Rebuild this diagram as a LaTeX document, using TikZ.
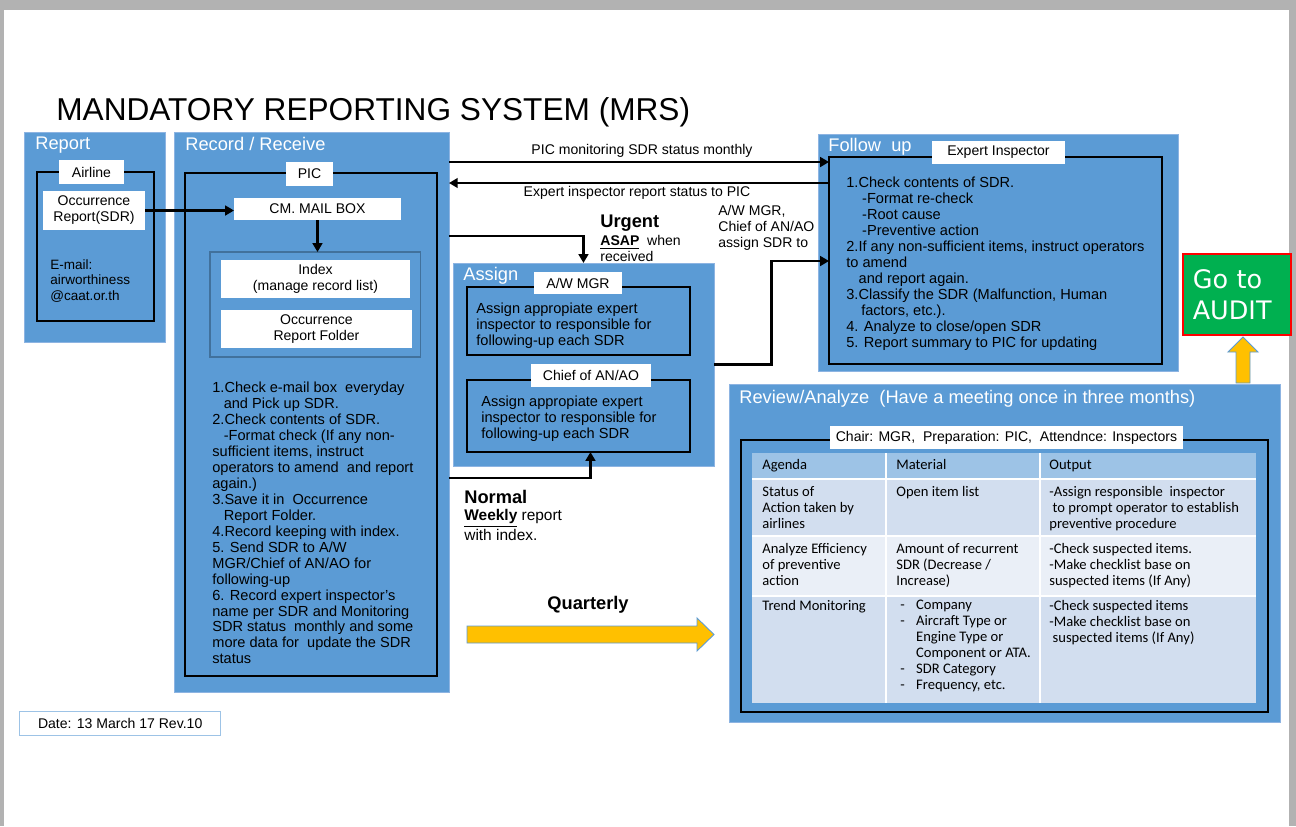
\documentclass[tikz,border=0pt]{standalone}
\usepackage{fontspec}
\setmainfont{Liberation Sans}
\newfontfamily\tabfont{Carlito}
\newfontfamily\auditfont{DejaVu Sans}
\usetikzlibrary{arrows.meta,calc}

\definecolor{boxblue}{HTML}{5B9BD5}
\definecolor{boxedge}{HTML}{8DB4E2}
\definecolor{grpedge}{HTML}{41719C}
\definecolor{tabhead}{HTML}{9DC3E6}
\definecolor{tabrowa}{HTML}{D2DEEF}
\definecolor{tabrowb}{HTML}{EAEFF7}
\definecolor{auditgreen}{HTML}{00B050}
\definecolor{arrowyellow}{HTML}{FFC000}
\newcommand\bodyfont{\fontsize{8.3}{9.07}\selectfont}
\newcommand\labelfont{\fontsize{8}{9.07}\selectfont}

\begin{document}
\begin{tikzpicture}[x=0.02cm, y=-0.02cm,
    %Option for arrows
    >={Triangle[length=5pt,width=5.5pt]},
    outerbox/.style={draw=boxedge, fill=boxblue, anchor=north west, inner sep=0pt, outer sep=0pt},
    blackframe/.style={draw=black, line width=0.8pt, anchor=north west, inner sep=0pt, outer sep=0pt},
    tagbox/.style={fill=white, inner sep=0pt, outer sep=0pt, font=\labelfont, align=center},
    headtext/.style={text=white, anchor=west, inner sep=0pt, font=\fontsize{10.4}{12}\selectfont},
    bodytext/.style={anchor=north west, inner sep=0pt, align=left, font=\bodyfont},
    boldtext/.style={anchor=west, inner sep=0pt, font=\bfseries\fontsize{10.4}{12}\selectfont},
    flow/.style={->, line width=1.3pt},
    cell/.style={anchor=north west, inner sep=0pt, align=left, font=\tabfont\fontsize{8.3}{9.07}\selectfont},
    blockarrow/.style={fill=arrowyellow, draw=boxblue, line width=0.5pt},
]
    % Page
    \fill[black!30] (0,0) rectangle (1296,826);
    \fill[white] (4,10) rectangle (1289,826);
    \useasboundingbox (0,0) rectangle (1296,826);

    \node[anchor=west, inner sep=0pt, font=\fontsize{18}{20}\selectfont] (title) at (56,112)
        {MANDATORY REPORTING SYSTEM (MRS)};

    % Report
    \node[outerbox, minimum width=2.82cm, minimum height=4.2cm] (report) at (24,132) {};
    \node[headtext] (reporthead) at (35,145) {Report};
    \node[blackframe, minimum width=2.34cm, minimum height=2.98cm] (airline) at (37,172) {};
    \node[tagbox, minimum width=1.3cm, minimum height=0.48cm] (airlinetag) at (91.5,172) {Airline};
    \node[tagbox, anchor=north west, minimum width=2.04cm, minimum height=0.78cm] (sdr) at (43,191)
        {Occurrence\\Report(SDR)};
    \node[bodytext, font=\fontsize{7.7}{8.8}\selectfont] (email) at (50,259) {E-mail:\\airworthiness\\@caat.or.th};

    % Record / Receive
    \node[outerbox, minimum width=5.5cm, minimum height=11.2cm] (record) at (174,132) {};
    \node[headtext] (recordhead) at (185,144) {Record / Receive};
    \node[blackframe, minimum width=5.04cm, minimum height=10.06cm] (pic) at (185,173) {};
    \node[tagbox, minimum width=0.94cm, minimum height=0.48cm] (pictag) at (309.5,174) {PIC};
    \node[tagbox, anchor=north west, minimum width=3.34cm, minimum height=0.44cm] (mailbox) at (234,198)
        {CM. MAIL BOX};
    \node[outerbox, draw=grpedge, line width=0.6pt, minimum width=4.22cm, minimum height=2.1cm] (records) at (210,252) {};
    \node[tagbox, anchor=north west, minimum width=3.78cm, minimum height=0.76cm] (index) at (221,260)
        {Index\\(manage record list)};
    \node[tagbox, anchor=north west, minimum width=3.82cm, minimum height=0.76cm] (folder) at (221,310)
        {Occurrence\\Report Folder};
    \node[bodytext] (picsteps) at (212,382) {1.Check e-mail box\ \ everyday\\
        \hspace*{6.5pt}and Pick up SDR.\\
        2.Check contents of SDR.\\
        \hspace*{6.5pt}-Format check (If any non-\\
        sufficient items, instruct\\
        operators to amend\ \ and report\\
        again.)\\
        3.Save it in\ \ Occurrence\\
        \hspace*{6.5pt}Report Folder.\\
        4.Record keeping with index.\\
        5. Send SDR to A/W\\
        MGR/Chief of AN/AO for\\
        following-up\\
        6. Record expert inspector's\\
        name per SDR and Monitoring\\
        SDR status\ \ monthly and some\\
        more data for\ \ update the SDR\\
        status};

    % Assign
    \node[outerbox, minimum width=5.22cm, minimum height=4.06cm] (assign) at (453,263) {};
    \node[headtext] (assignhead) at (463,276) {Assign};
    \node[blackframe, minimum width=4.46cm, minimum height=1.36cm] (awmgr) at (467,287) {};
    \node[tagbox, minimum width=1.76cm, minimum height=0.44cm] (awmgrtag) at (578,283) {A/W MGR};
    \node[bodytext] (awmgrtext) at (476,303)
        {Assign appropiate expert\\inspector to responsible for\\following-up each SDR};
    \node[blackframe, minimum width=4.46cm, minimum height=1.44cm] (chief) at (467,380) {};
    \node[tagbox, minimum width=2.4cm, minimum height=0.46cm] (chieftag) at (591,375.5) {Chief of AN/AO};
    \node[bodytext] (chieftext) at (481,396)
        {Assign appropiate expert\\inspector to responsible for\\following-up each SDR};

    % Follow up
    \node[outerbox, minimum width=7.2cm, minimum height=4.74cm] (follow) at (818,134) {};
    \node[headtext] (followhead) at (828,147) {Follow\ \ up};
    \node[blackframe, minimum width=6.66cm, minimum height=4.14cm] (expert) at (829,157) {};
    \node[tagbox, minimum width=2.66cm, minimum height=0.46cm] (experttag) at (998.5,152.5) {Expert Inspector};
    \node[bodytext] (experttext) at (846,177) {1.Check contents of SDR.\\
        \hspace*{9pt}-Format re-check\\
        \hspace*{9pt}-Root cause\\
        \hspace*{9pt}-Preventive action\\
        2.If any non-sufficient items, instruct operators\\
        to amend\\
        \hspace*{7pt}and report again.\\
        3.Classify the SDR (Malfunction, Human\\
        \hspace*{8.5pt}factors, etc.).\\
        4. Analyze to close/open SDR\\
        5. Report summary to PIC for updating};

    % Audit
    \node[anchor=north west, fill=auditgreen, draw=red, line width=0.9pt, minimum height=1.62cm,
        text width=1.76cm, inner sep=0.2cm, align=left, text=white,
        font=\auditfont\fontsize{14.5}{17.6}\selectfont] (audit) at (1182,253) {Go to\\AUDIT};
    \draw[blockarrow] (1236,383) -- (1236,352) -- (1228,352) -- (1243,337)
        -- (1258,352) -- (1250,352) -- (1250,383) -- cycle;

    % Review / Analyze
    \node[outerbox, minimum width=11.02cm, minimum height=6.76cm] (review) at (729,384) {};
    \node[headtext] (reviewhead) at (739,399) {Review/Analyze\ \ (Have a meeting once in three months)};
    \node[blackframe, minimum width=10.54cm, minimum height=5.44cm] (meeting) at (741,440) {};

    % Table
    \fill[tabhead] (752,453) rectangle (1256,479);
    \fill[tabrowa] (752,479) rectangle (1256,536);
    \fill[tabrowb] (752,536) rectangle (1256,596);
    \fill[tabrowa] (752,596) rectangle (1256,703);
    \foreach \y in {479,536,596}
        \draw[white, line width=1.2pt] (752,\y) -- (1256,\y);
    \foreach \x in {886,1040}
        \draw[white, line width=1.2pt] (\x,453) -- (\x,703);
    \node[tagbox, minimum width=7.06cm, minimum height=0.46cm] (chair) at (1006.5,437.5)
        {Chair: MGR,\ \ Preparation: PIC,\ \ Attendnce: Inspectors};

    \node[cell, anchor=base west] (agenda) at (762,469.5) {Agenda};
    \node[cell, anchor=base west] (material) at (896,469.5) {Material};
    \node[cell, anchor=base west] (output) at (1049,469.5) {Output};
    \node[cell] (statusa) at (762,486) {Status of\\Action taken by\\airlines};
    \node[cell] (statusm) at (896,486) {Open item list};
    \node[cell] (statuso) at (1049,486)
        {-Assign responsible\ \ inspector\\\ to prompt operator to establish\\preventive procedure};
    \node[cell] (effa) at (762,543) {Analyze Efficiency\\of preventive\\action};
    \node[cell] (effm) at (896,543) {Amount of recurrent\\SDR (Decrease /\\Increase)};
    \node[cell] (effo) at (1049,543)
        {-Check suspected items.\\-Make checklist base on\\suspected items (If Any)};
    \node[cell] (trenda) at (762,600) {Trend Monitoring};
    \node[cell] (trendm) at (900,600) {\makebox[9pt][l]{-}Company\\
        \makebox[9pt][l]{-}Aircraft Type or\\
        \hspace*{9pt}Engine Type or\\
        \hspace*{9pt}Component or ATA.\\
        \makebox[9pt][l]{-}SDR Category\\
        \makebox[9pt][l]{-}Frequency, etc.};
    \node[cell] (trendo) at (1049,600)
        {-Check suspected items\\-Make checklist base on\\\ suspected items (If Any)};

    % Quarterly
    \node[boldtext, anchor=center] (quarterly) at (588,605) {Quarterly};
    \draw[blockarrow] (467,626) -- (697,626) -- (697,618) -- (714,634.5)
        -- (697,651) -- (697,643) -- (467,643) -- cycle;

    % Labels of connectors
    \node[inner sep=0pt, font=\labelfont] (monlabel) at (642,151) {PIC monitoring SDR status monthly};
    \node[inner sep=0pt, font=\labelfont] (statlabel) at (637,193) {Expert inspector report status to PIC};
    \node[boldtext] (urgent) at (600,223) {Urgent};
    \node[bodytext, font=\labelfont] (urgentnote) at (600,235) {\underline{\textbf{ASAP}}\ \ when\\received};
    \node[boldtext] (normal) at (464,497) {Normal};
    \node[bodytext, font=\fontsize{8.8}{9.6}\selectfont] (normalnote) at (464,509)
        {\underline{\textbf{Weekly}} report\\with index.};
    \node[bodytext, font=\labelfont] (assignnote) at (718,205) {A/W MGR,\\Chief of AN/AO\\assign SDR to};

    % Connectors
    \draw[flow] (sdr.east) -- (sdr.east -| mailbox.west);
    \draw[flow] (mailbox.south) -- (mailbox.south |- records.north);
    \draw[flow] (record.east |- 0,162) -- (expert.west |- 0,162);
    \draw[flow] (expert.west |- 0,183) -- (record.east |- 0,183);
    \draw[flow] (record.east |- 0,236) -| (assign.north);
    \draw[flow] (record.east |- 0,478) -| ($(chief.south)+(12,0)$);
    \draw[flow] (assign.east) -- ($(assign.east)!0.5!(assign.east -| expert.west)$)
        |- (expert.west |- 0,261);

    % Date
    \node[anchor=north west, draw=tabhead, line width=0.8pt, minimum width=4.02cm, minimum height=0.48cm,
        inner sep=0pt, font=\labelfont] (date) at (19,711) {Date: 13 March 17 Rev.10};
\end{tikzpicture}
\end{document}
